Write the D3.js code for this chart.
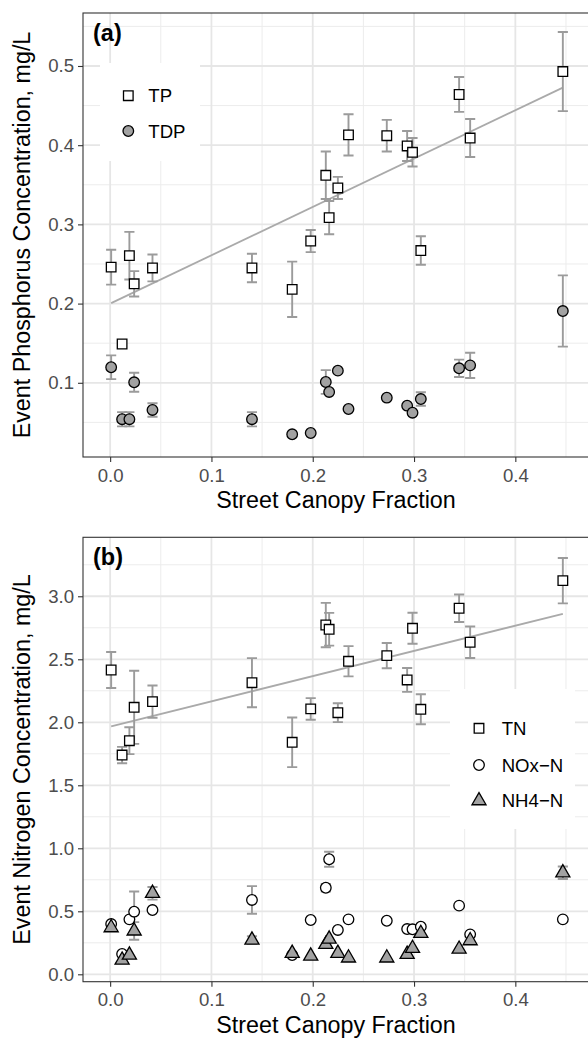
<!DOCTYPE html>
<html>
<head>
<meta charset="utf-8">
<script src="https://cdn.jsdelivr.net/npm/d3@7"></script>
<style>
  body { margin: 0; background: #fff; }
  svg { display: block; font-family: "Liberation Sans", Arial, sans-serif; }
</style>
</head>
<body>
<svg id="chart" width="588" height="1038"></svg>
<script>
// street canopy fraction for each site (shared by both panels)
const canopy = [0.001, 0.0118, 0.019, 0.0237, 0.0418, 0.140, 0.1797, 0.198, 0.2129, 0.2162,
                0.2248, 0.2353, 0.2731, 0.2932, 0.2985, 0.3067, 0.3445, 0.3554, 0.4469]

// panel (a) phosphorus, mg/L
const tp     = [0.246, 0.149, 0.2605, 0.225, 0.245, 0.245, 0.218, 0.279, 0.362, 0.3085,
                0.346, 0.413, 0.412, 0.399, 0.391, 0.267, 0.464, 0.409, 0.493]
const tpErr  = [0.022, 0, 0.030, 0.016, 0.017, 0.018, 0.035, 0.014, 0.030, 0.021,
                0.014, 0.026, 0.020, 0.019, 0.018, 0.018, 0.022, 0.024, 0.050]
const tdp    = [0.1196, 0.054, 0.054, 0.1006, 0.0657, 0.054, 0.035, 0.0366, 0.101, 0.0884,
                0.1153, 0.0669, 0.0812, 0.0711, 0.0622, 0.0795, 0.1183, 0.122, 0.1906]
const tdpErr = [0.015, 0.009, 0.009, 0.012, 0.0085, 0.009, 0, 0, 0.015, 0,
                0, 0, 0, 0, 0, 0.0085, 0.011, 0.016, 0.045]

// panel (b) nitrogen, mg/L
const tn     = [2.415, 1.740, 1.854, 2.119, 2.164, 2.314, 1.841, 2.106, 2.772, 2.738,
                2.076, 2.484, 2.529, 2.336, 2.746, 2.103, 2.905, 2.635, 3.124]
const tnErr  = [0.143, 0.065, 0.107, 0.290, 0.128, 0.195, 0.197, 0.086, 0.176, 0.130,
                0.075, 0.120, 0.100, 0.095, 0.123, 0.119, 0.109, 0.125, 0.180]
const nox    = [0.399, 0.161, 0.436, 0.497, 0.510, 0.590, 0.153, 0.431, 0.687, 0.913,
                0.352, 0.436, 0.425, 0.359, 0.357, 0.378, 0.545, 0.317, 0.436]
const noxErr = [0, 0, 0, 0.16, 0, 0.11, 0, 0, 0.03, 0.06, 0, 0, 0, 0, 0, 0, 0, 0, 0]
const nh4    = [0.370, 0.113, 0.153, 0.344, 0.643, 0.272, 0.167, 0.145, 0.238, 0.280,
                0.167, 0.130, 0.130, 0.159, 0.206, 0.325, 0.200, 0.267, 0.806]
const nh4Err = [0, 0, 0, 0.07, 0.05, 0.03, 0, 0, 0, 0, 0, 0, 0, 0, 0, 0, 0, 0, 0.05]

// tick labels
const xTicks  = [0.0, 0.1, 0.2, 0.3, 0.4]
const xMinor  = [0.05, 0.15, 0.25, 0.35, 0.45]
const yTicksA = [0.1, 0.2, 0.3, 0.4, 0.5]
const yMinorA = [0.05, 0.15, 0.25, 0.35, 0.45, 0.55]
const yTicksB = [0.0, 0.5, 1.0, 1.5, 2.0, 2.5, 3.0]
const yMinorB = [0.25, 0.75, 1.25, 1.75, 2.25, 2.75, 3.25]

const svg = d3.select('#chart')
const left = 83, right = 591
const grey = '#a2a2a2'
const errCol = '#9b9b9b'

// least squares fit for the trend line
function linFit(xs, ys) {
    let mx = d3.mean(xs), my = d3.mean(ys)
    let sxy = d3.sum(xs, (d, i) => (d - mx) * (ys[i] - my))
    let sxx = d3.sum(xs, d => (d - mx) * (d - mx))
    let b = sxy / sxx
    return { a: my - b * mx, b: b }
}

function symbolPath(shape) {
    if (shape == 'square') return d3.symbol(d3.symbolSquare, 92)()
    if (shape == 'circle') return d3.symbol(d3.symbolCircle, 88)()
    return d3.symbol(d3.symbolTriangle, 86)()
}

function drawPanel(p) {
    let x = d3.scaleLinear().domain([-0.0268, 0.4747]).range([left, right])
    let y = d3.scaleLinear().domain(p.yDomain).range([p.bottom, p.top])
    let g = svg.append('g')

    //grid, minor first then major
    g.selectAll('.vminor').data(xMinor).join('line')
        .attr('x1', d => x(d)).attr('x2', d => x(d))
        .attr('y1', p.top).attr('y2', p.bottom)
        .attr('stroke', '#ececec').attr('stroke-width', 1)
    g.selectAll('.hminor').data(p.yMinor).join('line')
        .attr('y1', d => y(d)).attr('y2', d => y(d))
        .attr('x1', left).attr('x2', right)
        .attr('stroke', '#ececec').attr('stroke-width', 1)
    g.selectAll('.vmajor').data(xTicks).join('line')
        .attr('x1', d => x(d)).attr('x2', d => x(d))
        .attr('y1', p.top).attr('y2', p.bottom)
        .attr('stroke', '#e6e6e6').attr('stroke-width', 1.8)
    g.selectAll('.hmajor').data(p.yTicks).join('line')
        .attr('y1', d => y(d)).attr('y2', d => y(d))
        .attr('x1', left).attr('x2', right)
        .attr('stroke', '#e6e6e6').attr('stroke-width', 1.8)

    //legend background covers the grid
    g.append('rect')
        .attr('x', p.legend.x0).attr('y', p.legend.y0)
        .attr('width', p.legend.x1 - p.legend.x0).attr('height', p.legend.y1 - p.legend.y0)
        .attr('fill', '#fff')

    //trend line through the first series
    let fit = linFit(canopy, p.series[0].values)
    let ext = d3.extent(canopy)
    g.append('line')
        .attr('x1', x(ext[0])).attr('y1', y(fit.a + fit.b * ext[0]))
        .attr('x2', x(ext[1])).attr('y2', y(fit.a + fit.b * ext[1]))
        .attr('stroke', '#aaaaaa').attr('stroke-width', 1.8)

    //error bars then points, series by series
    p.series.forEach(s => {
        let rows = canopy.map((c, i) => ({ x: c, v: s.values[i], e: s.err[i] }))
        let bars = g.append('g')
        rows.filter(d => d.e > 0).forEach(d => {
            let x0 = x(d.x - 0.005), x1 = x(d.x + 0.005)
            bars.append('path')
                .attr('d', `M${x0},${y(d.v + d.e)}H${x1}M${x(d.x)},${y(d.v + d.e)}V${y(d.v - d.e)}M${x0},${y(d.v - d.e)}H${x1}`)
                .attr('stroke', errCol).attr('stroke-width', 1.9).attr('fill', 'none')
        })
    })
    p.series.forEach(s => {
        let rows = canopy.map((c, i) => ({ x: c, v: s.values[i] }))
        g.append('g').selectAll('path').data(rows).join('path')
            .attr('d', symbolPath(s.shape))
            .attr('transform', d => `translate(${x(d.x)},${y(d.v)})`)
            .attr('fill', s.fill).attr('stroke', '#000').attr('stroke-width', 1.3)
    })

    //panel border
    g.append('rect')
        .attr('x', left).attr('y', p.top)
        .attr('width', right - left).attr('height', p.bottom - p.top)
        .attr('fill', 'none').attr('stroke', '#333').attr('stroke-width', 1.1)

    //axes
    let ax = g.append('g').attr('transform', `translate(0,${p.bottom})`)
        .call(d3.axisBottom(x).tickValues(xTicks).tickFormat(d3.format('.1f')).tickSize(5).tickPadding(6.5))
    let ay = g.append('g').attr('transform', `translate(${left},0)`)
        .call(d3.axisLeft(y).tickValues(p.yTicks).tickFormat(d3.format('.1f')).tickSize(5).tickPadding(4))
    ;[ax, ay].forEach(a => {
        a.select('.domain').remove()
        a.selectAll('line').attr('stroke', '#333').attr('stroke-width', 1.1)
        a.selectAll('text').attr('fill', '#4d4d4d').style('font-size', '18.6px')
            .style('font-family', '"Liberation Sans", Arial, sans-serif')
    })

    //titles
    g.append('text')
        .attr('x', 336).attr('y', p.bottom + 51)
        .attr('text-anchor', 'middle').style('font-size', '23.3px')
        .text('Street Canopy Fraction')
    g.append('text')
        .attr('transform', `translate(30,${(p.top + p.bottom) / 2}) rotate(-90)`)
        .attr('text-anchor', 'middle').style('font-size', '23.3px')
        .text(p.yTitle)
    g.append('text')
        .attr('x', 93).attr('y', p.top + 27.5)
        .style('font-size', '23.5px').style('font-weight', 'bold')
        .text(p.label)

    //legend keys
    p.series.forEach((s, i) => {
        let ly = p.legend.rows[i]
        g.append('path').attr('d', symbolPath(s.shape))
            .attr('transform', `translate(${p.legend.sx},${ly})`)
            .attr('fill', s.fill).attr('stroke', '#000').attr('stroke-width', 1.3)
        g.append('text').attr('x', p.legend.tx).attr('y', ly).attr('dy', '0.36em')
            .style('font-size', '18.6px').text(s.name)
    })
}

drawPanel({
    top: 13, bottom: 457, yDomain: [0.0063, 0.5669],
    yTicks: yTicksA, yMinor: yMinorA, label: '(a)',
    yTitle: 'Event Phosphorus Concentration, mg/L',
    series: [
        { name: 'TP', values: tp, err: tpErr, shape: 'square', fill: '#fff' },
        { name: 'TDP', values: tdp, err: tdpErr, shape: 'circle', fill: grey }
    ],
    legend: { x0: 100, x1: 200, y0: 63, y1: 161, sx: 128.3, tx: 148.3, rows: [95.7, 131] }
})

drawPanel({
    top: 537.3, bottom: 981.7, yDomain: [-0.0587, 3.468],
    yTicks: yTicksB, yMinor: yMinorB, label: '(b)',
    yTitle: 'Event Nitrogen Concentration, mg/L',
    series: [
        { name: 'TN', values: tn, err: tnErr, shape: 'square', fill: '#fff' },
        { name: 'NOx\u2212N', values: nox, err: noxErr, shape: 'circle', fill: '#fff' },
        { name: 'NH4\u2212N', values: nh4, err: nh4Err, shape: 'triangle', fill: grey }
    ],
    legend: { x0: 450, x1: 575, y0: 689, y1: 829, sx: 479, tx: 501.7, rows: [728.3, 765, 800.7] }
})
</script>
</body>
</html>
